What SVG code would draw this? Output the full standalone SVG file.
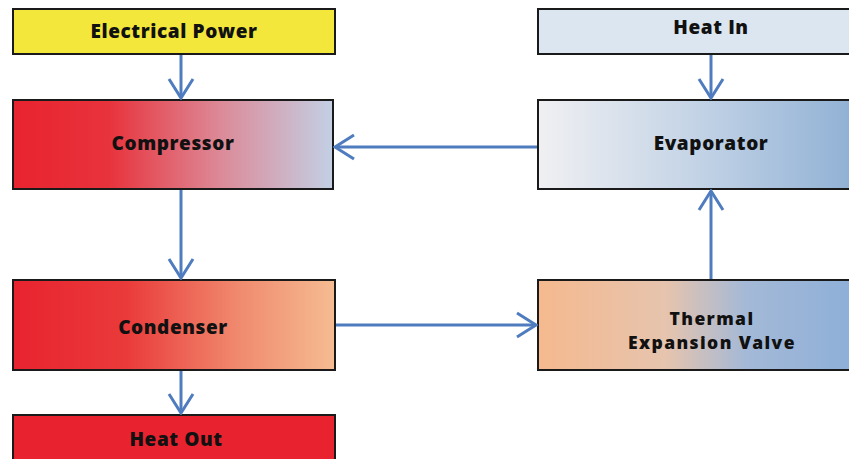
<svg xmlns="http://www.w3.org/2000/svg" width="849" height="459" viewBox="0 0 849 459">
<defs>
<linearGradient id="gComp" x1="0" x2="1" y1="0" y2="0">
<stop offset="0" stop-color="#e8232f"/><stop offset="0.3" stop-color="#e8333c"/><stop offset="0.65" stop-color="#dc8a98"/><stop offset="1" stop-color="#c3d0e5"/>
</linearGradient>
<linearGradient id="gCond" x1="0" x2="1" y1="0" y2="0">
<stop offset="0" stop-color="#e8232f"/><stop offset="0.35" stop-color="#ea3a3a"/><stop offset="0.7" stop-color="#f08a6e"/><stop offset="1" stop-color="#f5bc92"/>
</linearGradient>
<linearGradient id="gEvap" x1="0" x2="1" y1="0" y2="0">
<stop offset="0" stop-color="#f0f0f2"/><stop offset="0.5" stop-color="#c3d3e6"/><stop offset="1" stop-color="#8fb0d4"/>
</linearGradient>
<linearGradient id="gTev" x1="0" x2="1" y1="0" y2="0">
<stop offset="0" stop-color="#f5b98e"/><stop offset="0.4" stop-color="#e6c4ae"/><stop offset="0.65" stop-color="#a4b9d7"/><stop offset="1" stop-color="#8dafd8"/>
</linearGradient>
<marker id="ah" viewBox="-22 -14 24 28" markerWidth="24" markerHeight="28" refX="0" refY="0" orient="auto" markerUnits="userSpaceOnUse">
<path d="M-19,-12 L0,0 L-19,12" fill="none" stroke="#4f7cbf" stroke-width="3" stroke-linejoin="miter"/>
</marker>
</defs>
<style>
.box{stroke:#1a1a1a;stroke-width:2}
.lbl{font-family:"Open Sans",Lato,sans-serif;font-weight:800;font-size:19px;letter-spacing:0.6px;fill:#111;text-anchor:middle;dominant-baseline:central}
.lbl2{font-size:17.5px;letter-spacing:1.4px}
.con{fill:none;stroke:#4f7cbf;stroke-width:3;marker-end:url(#ah)}
</style>
<rect width="849" height="459" fill="#ffffff"/>
<g id="electrical-power"><rect class="box" x="13" y="9" width="322" height="45" fill="#f3e73c"/><text class="lbl" x="174" y="31">Electrical Power</text></g>
<g id="compressor"><rect class="box" x="13" y="100" width="320" height="89" fill="url(#gComp)"/><text class="lbl" x="173" y="143">Compressor</text></g>
<g id="condenser"><rect class="box" x="13" y="280" width="322" height="90" fill="url(#gCond)"/><text class="lbl" x="173" y="327">Condenser</text></g>
<g id="heat-out"><rect class="box" x="13" y="415" width="322" height="50" fill="#e8232f"/><text class="lbl" x="176" y="439">Heat Out</text></g>
<g id="heat-in"><rect class="box" x="538" y="9" width="320" height="45" fill="#dce6f0"/><text class="lbl" x="711" y="27">Heat In</text></g>
<g id="evaporator"><rect class="box" x="538" y="100" width="320" height="89" fill="url(#gEvap)"/><text class="lbl" x="711" y="143">Evaporator</text></g>
<g id="thermal-expansion-valve"><rect class="box" x="538" y="280" width="320" height="90" fill="url(#gTev)"/><text class="lbl lbl2" x="712" y="318">Thermal</text><text class="lbl lbl2" x="712" y="342">Expansion Valve</text></g>
<g id="connectors">
<path class="con" d="M181,55 L181,98"/>
<path class="con" d="M181,190 L181,278"/>
<path class="con" d="M181,371 L181,413"/>
<path class="con" d="M711,55 L711,98"/>
<path class="con" d="M711,279 L711,191"/>
<path class="con" d="M537,147 L335,147"/>
<path class="con" d="M336,325 L536,325"/>
</g>
</svg>
